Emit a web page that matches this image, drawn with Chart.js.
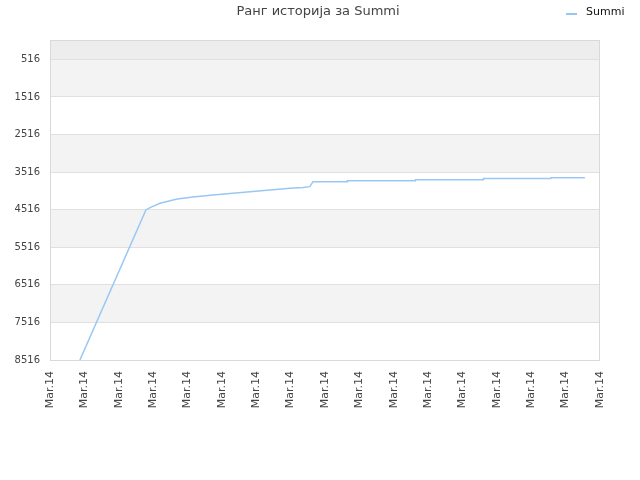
<!DOCTYPE html>
<html lang="sr">
<head>
<meta charset="UTF-8">
<title>Ранг историја за Summi</title>
<script src="https://cdn.jsdelivr.net/npm/chart.js"></script>
<style>
  html, body { margin: 0; padding: 0; background: #fff; }
  #wrap { width: 640px; height: 480px; }
</style>
</head>
<body>
<div id="wrap"><canvas id="rankChart" width="640" height="480"></canvas></div>
<script>
// podaci procitani sa slike
const chartTitle = 'Ранг историја за Summi';
const seriesName = 'Summi';
const xTickLabels = ['Mar.14','Mar.14','Mar.14','Mar.14','Mar.14','Mar.14','Mar.14','Mar.14','Mar.14',
                     'Mar.14','Mar.14','Mar.14','Mar.14','Mar.14','Mar.14','Mar.14','Mar.14'];
const yTickValues = [516, 1516, 2516, 3516, 4516, 5516, 6516, 7516, 8516];
const xPos = [0.87, 2.79, 2.91, 3.2, 3.7, 4.16, 4.74, 5.32, 5.9, 6.31, 6.98, 7.36, 7.56, 7.65,
              8.64, 8.65, 10.62, 10.63, 12.6, 12.61, 14.57, 14.58, 15.56];
const rankValues = [8516, 4522, 4461, 4344, 4229, 4176, 4123, 4077, 4035, 3998, 3945, 3923, 3902, 3769,
                    3769, 3743, 3743, 3716, 3716, 3689, 3689, 3663, 3663];

const lineColor = 'rgb(153, 199, 245)';

// pozadinske trake izmedju podela
const bandsPlugin = {
  id: 'bands',
  beforeDraw(chart) {
    const { ctx, chartArea: a, scales: { y } } = chart;
    ctx.save();
    ctx.fillStyle = '#ffffff';
    ctx.fillRect(a.left, a.top, a.right - a.left, a.bottom - a.top);
    const firstY = y.getPixelForValue(yTickValues[0]);
    ctx.fillStyle = '#ededed';
    ctx.fillRect(a.left, a.top, a.right - a.left, firstY - a.top);
    for (let i = 0; i < yTickValues.length - 1; i++) {
      if (i % 2 === 0) {
        const y1 = y.getPixelForValue(yTickValues[i]);
        const y2 = y.getPixelForValue(yTickValues[i + 1]);
        ctx.fillStyle = '#f3f3f3';
        ctx.fillRect(a.left, y1, a.right - a.left, y2 - y1);
      }
    }
    ctx.restore();
  },
  afterDraw(chart) {
    const { ctx, chartArea: a } = chart;
    ctx.save();
    ctx.strokeStyle = '#d9d9d9';
    ctx.lineWidth = 1;
    ctx.strokeRect(a.left + 0.5, a.top + 0.5, a.right - a.left - 1, a.bottom - a.top);
    // naslov
    ctx.fillStyle = '#444';
    ctx.font = '13px "DejaVu Sans", sans-serif';
    ctx.textAlign = 'center';
    ctx.textBaseline = 'middle';
    ctx.fillText(chartTitle, 318, 12);
    // legenda
    ctx.strokeStyle = lineColor;
    ctx.lineWidth = 2;
    ctx.beginPath();
    ctx.moveTo(566, 14);
    ctx.lineTo(577, 14);
    ctx.stroke();
    ctx.fillStyle = '#111';
    ctx.font = '11px "DejaVu Sans", sans-serif';
    ctx.textAlign = 'left';
    ctx.fillText(seriesName, 586, 12);
    ctx.restore();
  }
};

new Chart(document.getElementById('rankChart'), {
  type: 'line',
  data: {
    datasets: [{
      label: seriesName,
      data: xPos.map((x, i) => ({ x: x, y: rankValues[i] })),
      borderColor: lineColor,
      backgroundColor: lineColor,
      borderWidth: 1.5,
      pointRadius: 0,
      tension: 0,
      fill: false
    }]
  },
  options: {
    responsive: false,
    animation: false,
    layout: { padding: { top: 40, right: 40, left: 0, bottom: 0 } },
    plugins: {
      legend: { display: false },
      title: { display: false },
      tooltip: { enabled: false }
    },
    scales: {
      x: {
        type: 'linear',
        min: 0,
        max: xTickLabels.length - 1,
        grid: { display: false, drawTicks: false },
        border: { display: false },
        afterBuildTicks(scale) {
          scale.ticks = xTickLabels.map((_, i) => ({ value: i }));
        },
        afterFit(scale) { scale.height = 120; },
        ticks: {
          autoSkip: false,
          maxRotation: 90,
          minRotation: 90,
          padding: 11,
          color: '#444',
          font: { family: 'DejaVu Sans', size: 11 },
          callback: (v, i) => xTickLabels[i]
        }
      },
      y: {
        type: 'linear',
        reverse: true,
        min: 0,
        max: 8516,
        afterBuildTicks(scale) {
          scale.ticks = yTickValues.map(v => ({ value: v }));
        },
        afterFit(scale) { scale.width = 50; },
        grid: { color: '#e0e0e0', drawTicks: false },
        border: { display: false },
        ticks: {
          padding: 10,
          color: '#444',
          font: { family: 'DejaVu Sans', size: 10 },
          callback: v => String(v)
        }
      }
    }
  },
  plugins: [bandsPlugin]
});
</script>
</body>
</html>
